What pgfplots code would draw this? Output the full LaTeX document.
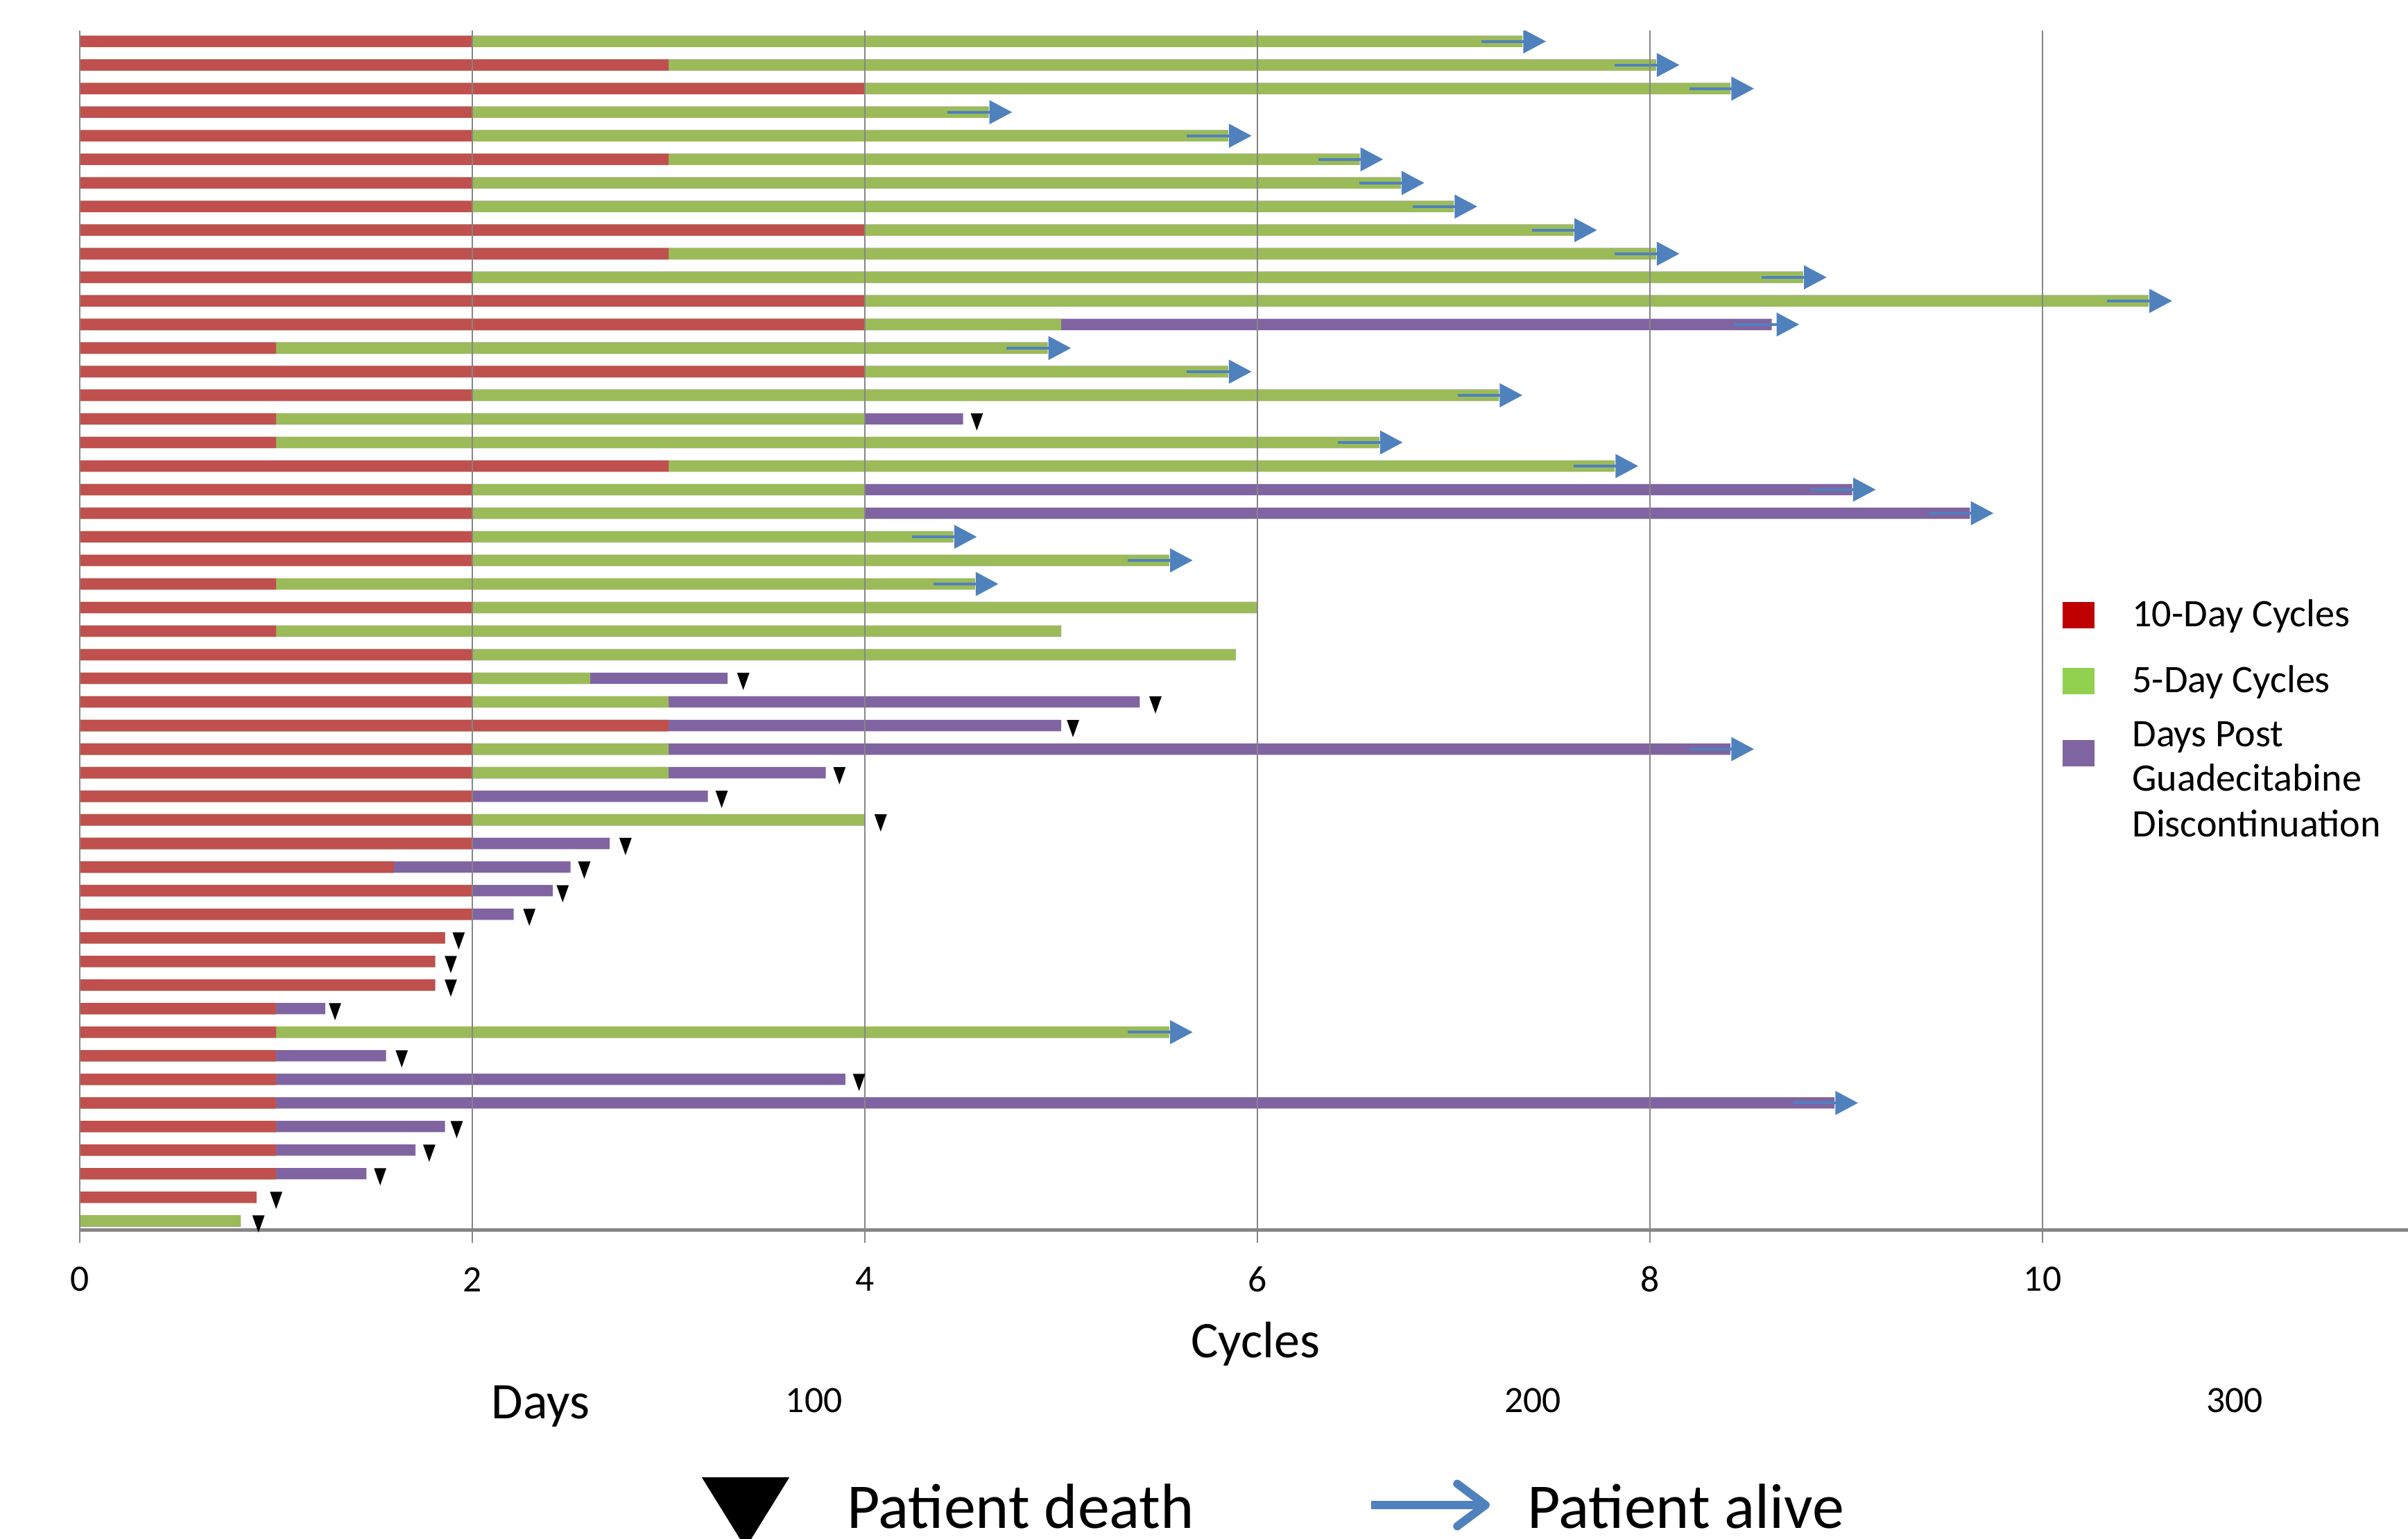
\documentclass[border=0pt]{standalone}
\usepackage{pgfplots}
\pgfplotsset{compat=1.18}
\usepackage{pgfplotstable}
\usepackage{fontspec}
\setmainfont{Carlito}
\usetikzlibrary{arrows.meta}
\definecolor{redbar}{HTML}{C0504D}
\definecolor{greenbar}{HTML}{9BBB59}
\definecolor{purplebar}{HTML}{8064A2}
\definecolor{arrowblue}{HTML}{4F81BD}
\definecolor{legred}{HTML}{C00000}
\definecolor{leggreen}{HTML}{92D050}
\definecolor{legpurple}{HTML}{8064A2}
\definecolor{gridgray}{HTML}{868686}

% y = row (top row = 51), r = end of 10-day cycles, g = end of 5-day cycles, p = end of follow-up
\pgfplotstableread{
y r g p
51 2 7.35 7.35
50 3 8.03 8.03
49 4 8.41 8.41
48 2 4.63 4.63
47 2 5.85 5.85
46 3 6.52 6.52
45 2 6.73 6.73
44 2 7.00 7.00
43 4 7.61 7.61
42 3 8.03 8.03
41 2 8.78 8.78
40 4 10.54 10.54
39 4 5 8.62
38 1 4.93 4.93
37 4 5.85 5.85
36 2 7.23 7.23
35 1 4 4.5
34 1 6.62 6.62
33 3 7.82 7.82
32 2 4 9.03
31 2 4 9.63
30 2 4.45 4.45
29 2 5.55 5.55
28 1 4.56 4.56
27 2 6.0 6.0
26 1 5.0 5.0
25 2 5.89 5.89
24 2 2.6 3.3
23 2 3 5.4
22 3 3 5.0
21 2 3 8.41
20 2 3 3.8
19 2 2 3.2
18 2 4 4
17 2 2 2.7
16 1.6 1.6 2.5
15 2 2 2.41
14 2 2 2.21
13 1.86 1.86 1.86
12 1.81 1.81 1.81
11 1.81 1.81 1.81
10 1 1 1.25
9 1 5.55 5.55
8 1 1 1.56
7 1 1 3.9
6 1 1 8.94
5 1 1 1.86
4 1 1 1.71
3 1 1 1.46
2 0.9 0.9 0.9
1 0 0.82 0.82
}\barstab

\pgfplotstableread{
y x
35 4.57
24 3.38
23 5.48
22 5.06
20 3.87
19 3.27
18 4.08
17 2.78
16 2.57
15 2.46
14 2.29
13 1.93
12 1.89
11 1.89
10 1.30
8 1.64
7 3.97
5 1.92
4 1.78
3 1.53
2 1.00
1 0.91
}\deathtab

\pgfplotstableread{
y x0 u
51 7.14 0.33
50 7.82 0.33
49 8.20 0.33
48 4.42 0.33
47 5.64 0.33
46 6.31 0.33
45 6.52 0.33
44 6.79 0.33
43 7.40 0.33
42 7.82 0.33
41 8.57 0.33
40 10.33 0.33
39 8.43 0.33
38 4.72 0.33
37 5.64 0.33
36 7.02 0.33
34 6.41 0.33
33 7.61 0.33
32 8.82 0.33
31 9.42 0.33
30 4.24 0.33
29 5.34 0.33
28 4.35 0.33
21 8.20 0.33
9 5.34 0.33
6 8.73 0.33
}\alivetab

\begin{document}
\begin{tikzpicture}
\begin{axis}[
  at={(0,0)}, anchor=south west, scale only axis,
  width=657.44pt, height=338.70pt,
  xmin=0, xmax=11.862, ymin=0.609, ymax=51.456,
  axis x line*=bottom, axis y line*=left,
  x axis line style={color=gridgray, line width=1pt},
  y axis line style={color=gridgray, line width=0.5pt},
  xtick={0,2,...,10}, ytick=\empty,
  tick align=outside, major tick length=3.5pt,
  xtick style={color=gridgray, line width=0.5pt},
  xmajorgrids, grid style={color=gridgray, line width=0.5pt},
  axis on top,
  /pgf/number format/assume math mode=true,
  xticklabel style={font=\fontsize{10.5}{12}\selectfont, inner sep=0pt, anchor=center, yshift=-10.4pt},
  xlabel={Cycles},
  xlabel style={font=\fontsize{14.5}{16}\selectfont, at={(rel axis cs:0.505,0)}, anchor=base, yshift=-36pt, inner sep=0pt},
]
\addplot[xbar, bar width=3.2pt, bar shift=0pt, fill=purplebar, draw=none] table[x=p, y=y] {\barstab};
\addplot[xbar, bar width=3.2pt, bar shift=0pt, fill=greenbar, draw=none] table[x=g, y=y] {\barstab};
\addplot[xbar, bar width=3.2pt, bar shift=0pt, fill=redbar, draw=none] table[x=r, y=y] {\barstab};
\addplot[no marks, draw=arrowblue, line width=0.8pt, -{Triangle[length=6.4pt,width=6.6pt]},
  quiver={u=\thisrow{u}, v=0}] table[x=x0, y=y] {\alivetab};
\addplot[only marks, mark=triangle*, mark size=2.7pt,
  mark options={fill=black, draw=black, rotate=180, xscale=0.62}] table[x=x, y=y] {\deathtab};
\end{axis}
\begin{scope}[shift={(-22.551pt,347.37pt)}, x=0.43367pt, y=-0.43367pt]
  \fill[legred] (1343,392) rectangle (1364,409);
  \fill[leggreen] (1343,435) rectangle (1364,452);
  \fill[legpurple] (1343,482) rectangle (1364,499);
  \begin{scope}[every node/.style={anchor=base west, inner sep=0pt, font=\fontsize{11}{13}\selectfont}]
    \node at (1388,408) {10-Day Cycles};
    \node at (1388,451) {5-Day Cycles};
    \node at (1388,486) {Days Post};
    \node at (1388,515) {Guadecitabine};
    \node at (1388,545) {Discontinuation};
  \end{scope}
  \node[anchor=base, inner sep=0pt, font=\fontsize{14.5}{16}\selectfont] at (352,924) {Days};
  \begin{scope}[every node/.style={anchor=base, inner sep=0pt, font=\fontsize{10.5}{12}\selectfont}]
    \node at (530,919.5) {100};
    \node at (998,919.5) {200};
    \node at (1455,919.5) {300};
  \end{scope}
  \fill[black] (457,962) -- (514,962) -- (485.5,1008) -- cycle;
  \node[anchor=base west, inner sep=0pt, font=\fontsize{18}{20}\selectfont] at (551,995) {Patient death};
  \draw[arrowblue, line width=2.3pt, -{Straight Barb[length=8pt,width=12pt,round]}] (893,980) -- (970,980);
  \node[anchor=base west, inner sep=0pt, font=\fontsize{18}{20}\selectfont] at (994,995) {Patient alive};
  \pgfresetboundingbox
  \path[use as bounding box] (0,0) rectangle (1568,1002);
\end{scope}
\end{tikzpicture}
\end{document}
